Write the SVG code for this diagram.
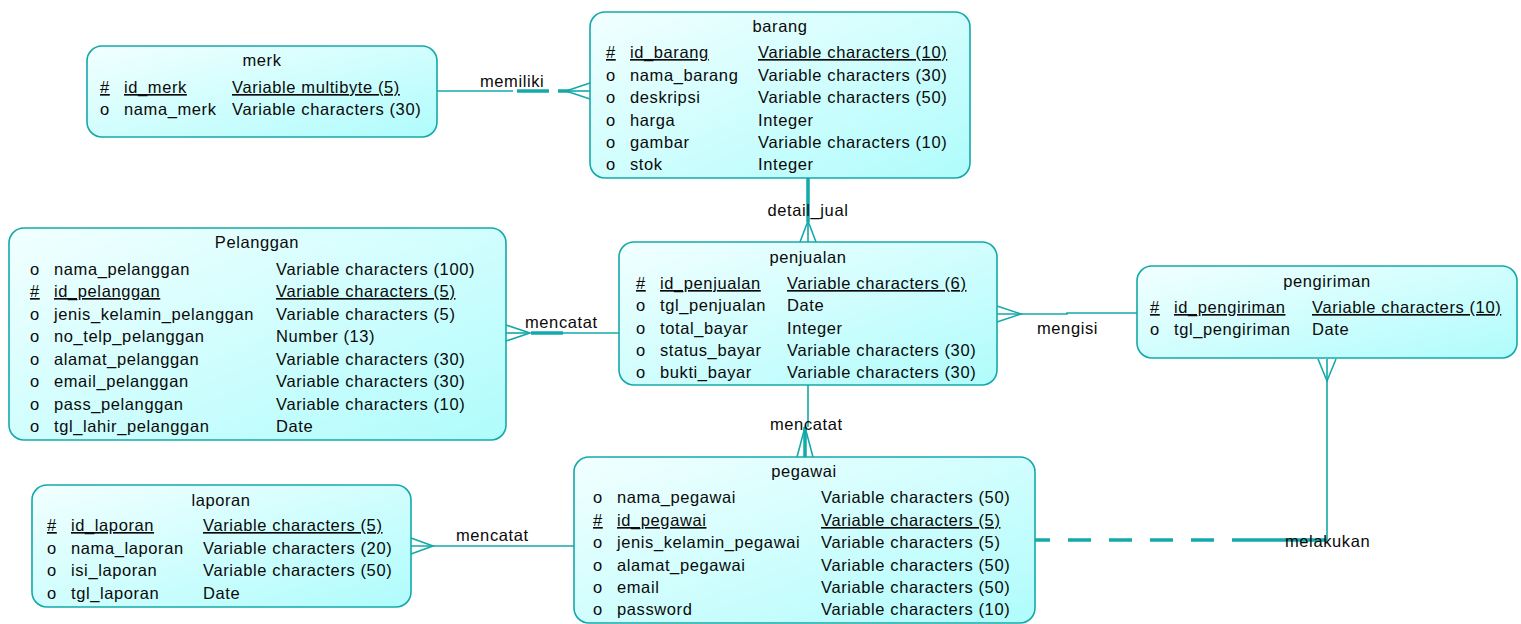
<svg xmlns="http://www.w3.org/2000/svg" width="1521" height="624" viewBox="0 0 1521 624">
<defs>
<linearGradient id="g" x1="0" y1="0" x2="1" y2="1">
<stop offset="0" stop-color="#f2ffff"/>
<stop offset="1" stop-color="#b0fcfc"/>
</linearGradient>
</defs>
<style>
.box{fill:url(#g);stroke:#14a9a9;stroke-width:1.6}
text{font-family:"Liberation Sans",Arial,sans-serif;font-size:16.5px;fill:#0a0a0a;letter-spacing:0.6px}
.t{text-anchor:middle}
.k{text-decoration:underline}
.ln{stroke:#14a9a9;stroke-width:1.6;fill:none}
.th{stroke:#14a9a9;stroke-width:3.5;fill:none}
.ds{stroke:#14a9a9;stroke-width:3.5;fill:none;stroke-dasharray:23 18}
</style>
<rect width="1521" height="624" fill="#ffffff"/>
<g id="connectors">
<line class="ln" x1="437" y1="91" x2="513" y2="91"/>
<line class="th" x1="517" y1="91" x2="549" y2="91"/>
<line class="th" x1="558" y1="91" x2="570" y2="91"/>
<polyline class="ln" points="590,83 566,91 590,99"/>
<line class="ln" x1="566" y1="91" x2="590" y2="91"/>
<text x="480" y="87">memiliki</text>
<line class="th" x1="808" y1="178" x2="808" y2="222"/>
<line class="ln" x1="808" y1="222" x2="808" y2="242"/>
<polyline class="ln" points="800,242 808,221 816,242"/>
<text class="t" x="808" y="216">detail_jual</text>
<line class="ln" x1="506" y1="333" x2="530" y2="333"/>
<polyline class="ln" points="506,325 530,333 506,341"/>
<line class="th" x1="531" y1="333" x2="563" y2="333"/>
<line class="ln" x1="563" y1="333" x2="619" y2="333"/>
<text x="525" y="328">mencatat</text>
<polyline class="ln" points="997,306 1021,314 997,322"/>
<polyline class="ln" points="997,314 1067,314 1067,313 1137,313"/>
<text x="1037" y="334">mengisi</text>
<line class="ln" x1="808" y1="385" x2="808" y2="427"/>
<line class="th" x1="805" y1="427" x2="805" y2="457"/>
<polyline class="ln" points="797,457 805,427 813,457"/>
<text x="770" y="430">mencatat</text>
<line class="ln" x1="411" y1="546" x2="574" y2="546"/>
<polyline class="ln" points="411,538 433,546 411,554"/>
<text x="456" y="541">mencatat</text>
<line class="ds" x1="1035" y1="540" x2="1255" y2="540" stroke-dashoffset="8"/>
<line class="th" x1="1255" y1="540" x2="1327" y2="540"/>
<line class="ln" x1="1327" y1="540" x2="1327" y2="359"/>
<polyline class="ln" points="1318,359 1327,381 1336,359"/>
<text x="1285" y="547">melakukan</text>
</g>
<g id="merk">
<rect class="box" x="87" y="46" width="350" height="91" rx="15"/>
<text class="t" x="262" y="66">merk</text>
<text class="k" x="100" y="93">#</text><text class="k" x="124" y="93">id_merk</text><text class="k" x="232" y="93">Variable multibyte (5)</text>
<text x="100" y="115">o</text><text x="124" y="115">nama_merk</text><text x="232" y="115">Variable characters (30)</text>
</g>
<g id="barang">
<rect class="box" x="590" y="12" width="380" height="166" rx="15"/>
<text class="t" x="780" y="32">barang</text>
<text class="k" x="606" y="58">#</text><text class="k" x="630" y="58">id_barang</text><text class="k" x="758" y="58">Variable characters (10)</text>
<text x="606" y="80.5">o</text><text x="630" y="80.5">nama_barang</text><text x="758" y="80.5">Variable characters (30)</text>
<text x="606" y="103">o</text><text x="630" y="103">deskripsi</text><text x="758" y="103">Variable characters (50)</text>
<text x="606" y="125.5">o</text><text x="630" y="125.5">harga</text><text x="758" y="125.5">Integer</text>
<text x="606" y="148">o</text><text x="630" y="148">gambar</text><text x="758" y="148">Variable characters (10)</text>
<text x="606" y="170">o</text><text x="630" y="170">stok</text><text x="758" y="170">Integer</text>
</g>
<g id="pelanggan">
<rect class="box" x="9" y="228" width="497" height="212" rx="15"/>
<text class="t" x="257" y="248">Pelanggan</text>
<text x="30" y="275">o</text><text x="54" y="275">nama_pelanggan</text><text x="276" y="275">Variable characters (100)</text>
<text class="k" x="30" y="297">#</text><text class="k" x="54" y="297">id_pelanggan</text><text class="k" x="276" y="297">Variable characters (5)</text>
<text x="30" y="320">o</text><text x="54" y="320">jenis_kelamin_pelanggan</text><text x="276" y="320">Variable characters (5)</text>
<text x="30" y="342">o</text><text x="54" y="342">no_telp_pelanggan</text><text x="276" y="342">Number (13)</text>
<text x="30" y="364.5">o</text><text x="54" y="364.5">alamat_pelanggan</text><text x="276" y="364.5">Variable characters (30)</text>
<text x="30" y="387">o</text><text x="54" y="387">email_pelanggan</text><text x="276" y="387">Variable characters (30)</text>
<text x="30" y="409.5">o</text><text x="54" y="409.5">pass_pelanggan</text><text x="276" y="409.5">Variable characters (10)</text>
<text x="30" y="432">o</text><text x="54" y="432">tgl_lahir_pelanggan</text><text x="276" y="432">Date</text>
</g>
<g id="penjualan">
<rect class="box" x="619" y="242" width="378" height="143" rx="15"/>
<text class="t" x="808" y="263">penjualan</text>
<text class="k" x="636" y="289">#</text><text class="k" x="660" y="289">id_penjualan</text><text class="k" x="787" y="289">Variable characters (6)</text>
<text x="636" y="311">o</text><text x="660" y="311">tgl_penjualan</text><text x="787" y="311">Date</text>
<text x="636" y="334">o</text><text x="660" y="334">total_bayar</text><text x="787" y="334">Integer</text>
<text x="636" y="356">o</text><text x="660" y="356">status_bayar</text><text x="787" y="356">Variable characters (30)</text>
<text x="636" y="378">o</text><text x="660" y="378">bukti_bayar</text><text x="787" y="378">Variable characters (30)</text>
</g>
<g id="pengiriman">
<rect class="box" x="1137" y="266" width="380" height="92" rx="15"/>
<text class="t" x="1327" y="287">pengiriman</text>
<text class="k" x="1150" y="313">#</text><text class="k" x="1174" y="313">id_pengiriman</text><text class="k" x="1312" y="313">Variable characters (10)</text>
<text x="1150" y="335">o</text><text x="1174" y="335">tgl_pengiriman</text><text x="1312" y="335">Date</text>
</g>
<g id="laporan">
<rect class="box" x="32" y="485" width="379" height="122" rx="15"/>
<text class="t" x="221" y="506">laporan</text>
<text class="k" x="47" y="531">#</text><text class="k" x="71" y="531">id_laporan</text><text class="k" x="203" y="531">Variable characters (5)</text>
<text x="47" y="554">o</text><text x="71" y="554">nama_laporan</text><text x="203" y="554">Variable characters (20)</text>
<text x="47" y="576">o</text><text x="71" y="576">isi_laporan</text><text x="203" y="576">Variable characters (50)</text>
<text x="47" y="599">o</text><text x="71" y="599">tgl_laporan</text><text x="203" y="599">Date</text>
</g>
<g id="pegawai">
<rect class="box" x="574" y="457" width="461" height="166" rx="15"/>
<text class="t" x="804" y="477">pegawai</text>
<text x="593" y="503">o</text><text x="617" y="503">nama_pegawai</text><text x="821" y="503">Variable characters (50)</text>
<text class="k" x="593" y="526">#</text><text class="k" x="617" y="526">id_pegawai</text><text class="k" x="821" y="526">Variable characters (5)</text>
<text x="593" y="548">o</text><text x="617" y="548">jenis_kelamin_pegawai</text><text x="821" y="548">Variable characters (5)</text>
<text x="593" y="570.5">o</text><text x="617" y="570.5">alamat_pegawai</text><text x="821" y="570.5">Variable characters (50)</text>
<text x="593" y="593">o</text><text x="617" y="593">email</text><text x="821" y="593">Variable characters (50)</text>
<text x="593" y="615">o</text><text x="617" y="615">password</text><text x="821" y="615">Variable characters (10)</text>
</g>
</svg>
